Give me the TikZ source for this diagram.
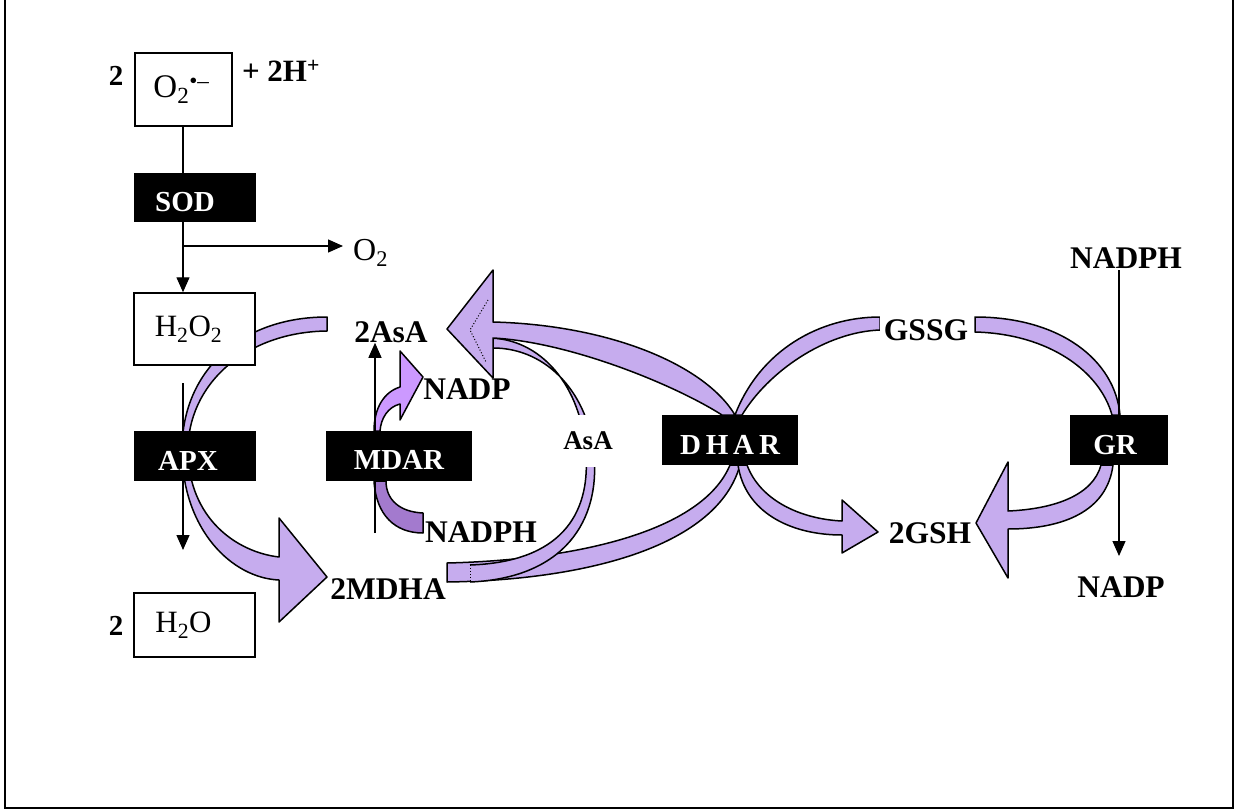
\documentclass[tikz,border=0pt]{standalone}
\usepackage{fontspec}
\setmainfont{Liberation Serif}
\usetikzlibrary{arrows.meta}
\definecolor{ribc}{RGB}{198,172,238}
\definecolor{ribb}{RGB}{204,153,255}
\definecolor{ribd}{RGB}{163,122,206}
\tikzset{
  ebox/.style={fill=black, text=white, font=\fontsize{29}{30}\selectfont\bfseries, inner sep=0pt, text height=28pt, text depth=0pt},
  wbox/.style={draw=black, fill=white, line width=1.5pt, inner sep=0pt, font=\fontsize{31}{32}\selectfont},
  lbl/.style={font=\fontsize{31.5}{32}\selectfont\bfseries, inner sep=0pt},
  rib/.style={fill=ribc, draw=black, line width=1.5pt, line join=round},
  arr/.style={line width=1.3pt, -{Triangle[length=15pt,width=13pt]}},
  ln/.style={line width=1.3pt},
  frame/.style={line width=2pt}
}
\begin{document}
\begin{tikzpicture}[x=1pt,y=-1pt]
\useasboundingbox (0,0) rectangle (1237,811);
% frame (top edge outside the picture)
\draw[frame] (5,-5) -- (5,808) -- (1233,808) -- (1233,-5);

% ---------- purple ribbons ----------
% APX loop: H2O2 -> 2MDHA
\path[rib] (327,317) .. controls (240,317) and (181,372) .. (182,452)
  .. controls (183,530) and (232,578) .. (279,580) -- (279,622) -- (327,577) -- (279,518) -- (279,557)
  .. controls (236,552) and (189,518) .. (188,452)
  .. controls (187,385) and (245,332) .. (327,331) -- cycle;
% MDAR: NADPH -> NADP
\path[rib, fill=ribb] (374,431) .. controls (374,408) and (384,392) .. (400,387)
  -- (400,351) -- (423,377) -- (400,420) -- (400,404)
  .. controls (388,407) and (381,418) .. (380,431) -- cycle;
\path[rib, fill=ribd] (374,481) .. controls (376,515) and (395,533) .. (423,533)
  -- (423,513) .. controls (400,512) and (386,500) .. (386,481) -- cycle;
% DHAR -> 2MDHA
\path[rib] (740,465) .. controls (718,545) and (590,580) .. (447,582)
  -- (447,563) .. controls (575,560) and (702,532) .. (730,465) -- cycle;
% 2MDHA -> AsA -> 2AsA
\fill[ribc] (470,582) .. controls (565,578) and (600,520) .. (594,455)
  .. controls (589,395) and (548,348) .. (493,348)
  -- (493,376) -- (469,330) -- (488,298) -- (488,338)
  .. controls (540,338) and (582,385) .. (586,455)
  .. controls (590,515) and (560,562) .. (470,565) -- cycle;
\draw[line width=1.5pt, line join=round] (470,582) .. controls (565,578) and (600,520) .. (594,455)
  .. controls (589,395) and (548,348) .. (493,348)
  -- (493,376) -- (469,330) -- (488,298) -- (488,338)
  .. controls (540,338) and (582,385) .. (586,455)
  .. controls (590,515) and (560,562) .. (470,565);
\draw[dotted, line width=1pt] (470,565) -- (470,582);
% DHAR -> 2AsA
\path[rib] (735,415) .. controls (705,365) and (610,325) .. (493,322)
  -- (493,270) -- (447,329) -- (493,378) -- (493,338)
  .. controls (570,342) and (675,385) .. (722,415) -- cycle;
\draw[dotted, line width=1pt] (488,300) -- (470,330) -- (486,362);
% GSSG loop
\path[rib] (735,415) .. controls (760,350) and (820,317) .. (880,317)
  -- (880,330) .. controls (825,332) and (768,372) .. (742,415) -- cycle;
\path[rib] (975,317) .. controls (1060,317) and (1115,360) .. (1120,415)
  -- (1112,415) .. controls (1100,372) and (1050,334) .. (975,332) -- cycle;
% DHAR -> 2GSH
\path[rib] (738,465) .. controls (745,512) and (790,535) .. (842,535)
  -- (842,553) -- (878,532) -- (842,500) -- (842,521)
  .. controls (800,519) and (760,500) .. (747,465) -- cycle;
% GR -> 2GSH
\path[rib] (1113,465) .. controls (1107,512) and (1062,529) .. (1008,529)
  -- (1008,578) -- (976,523) -- (1008,462) -- (1008,511)
  .. controls (1055,509) and (1093,495) .. (1101,465) -- cycle;

% ---------- labels ----------
\node[lbl] (asa2) at (391,332) {2AsA};
\node[lbl] (nadp1) at (467,389) {NADP};
\node[lbl] (nadph1) at (481,532) {NADPH};
\node[lbl] (mdha) at (388,589) {2MDHA};
\node[lbl, font=\fontsize{27}{28}\selectfont\bfseries, fill=white, minimum height=52pt, minimum width=52pt] (asa) at (588,441) {AsA};
\node[lbl, fill=white, minimum width=93pt, minimum height=30pt] (gssg) at (926,330) {GSSG};
\node[lbl] (nadph2) at (1126,258) {NADPH};
\node[lbl] (nadp2) at (1121,587) {NADP};
\node[lbl] (gsh) at (930,533) {2GSH};
\node[lbl, font=\fontsize{29}{30}\selectfont\bfseries] (two1) at (116,76) {2};
\node[lbl, font=\fontsize{29}{30}\selectfont\bfseries] (two2) at (116,626) {2};
\node[lbl, font=\fontsize{31}{32}\selectfont\bfseries] (hplus) at (281,71) {+ 2H\textsuperscript{+}};
\node[anchor=west, inner xsep=10pt, inner ysep=0pt, font=\fontsize{32}{33}\selectfont] (o2p) at (343,253) {O\textsubscript{2}};

% ---------- black connectors ----------
\coordinate (cx) at (183,0);
\coordinate (br) at (183,246);
\coordinate (a1) at (183,383);
\coordinate (a2) at (183,550);
\coordinate (m1) at (375,533);
\coordinate (g1) at (1119,270);
\coordinate (g2) at (1119,556);

% ---------- boxes ----------
\node[wbox, minimum width=97pt, minimum height=73pt, font=\fontsize{33}{34}\selectfont] (o2box) at (183.5,89.5) {O\textsubscript{2}\textsuperscript{•–}\hspace*{4pt}};
\node[ebox, minimum width=122pt, minimum height=49pt] (sod) at (195,197.5) {SOD\hspace*{20pt}};
\node[wbox, minimum width=121pt, minimum height=72pt] (h2o2) at (194.5,329) {H\textsubscript{2}O\textsubscript{2}\hspace*{12pt}};
\node[wbox, minimum width=121pt, minimum height=64pt] (h2o) at (194.5,625) {H\textsubscript{2}O\hspace*{22pt}};

\draw[ln] (o2box.south -| cx) -- (cx |- sod.north);
\draw[arr] (cx |- sod.south) -- (cx |- h2o2.north);
\draw[arr] (br) -- (br -| o2p.west);
\draw[ln] (a1) -- (a1 |- 0,431);
\draw[arr] (a2 |- 0,481) -- (a2);
\draw[arr] (m1) -- (m1 |- asa2.south);
\draw[arr] (g1) -- (g2);

\node[ebox, minimum width=122pt, minimum height=50pt] (apx) at (195,456) {APX\hspace*{14pt}};
\node[ebox, minimum width=146pt, minimum height=50pt] (mdar) at (399,455.5) {MDAR};
\node[ebox, minimum width=136pt, minimum height=50pt] (dhar) at (730,440) {D\,H\,A\,R};
\node[ebox, minimum width=98pt, minimum height=50pt] (gr) at (1119,440) {GR\hspace*{8pt}};
\end{tikzpicture}
\end{document}
